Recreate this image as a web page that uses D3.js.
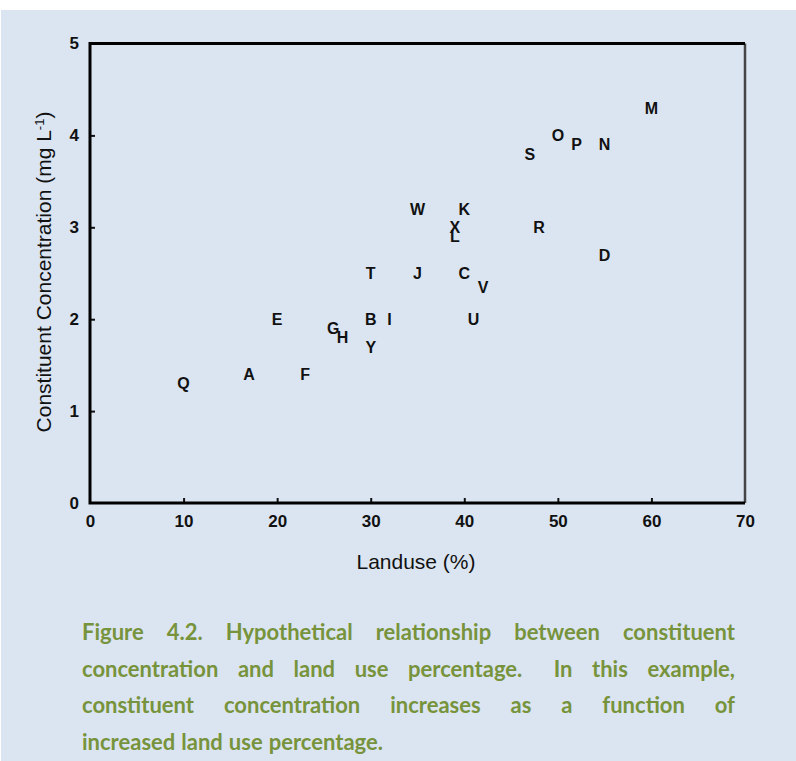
<!DOCTYPE html>
<html lang="en">
<head>
<meta charset="utf-8">
<script src="https://d3js.org/d3.v7.min.js"></script>
<style>
  html, body { margin: 0; padding: 0; background: #fff; }
  svg { display: block; }
  .tick-lbl { font: bold 17px "Liberation Sans", Arial, sans-serif; fill: #111; }
  .ax-title { font: 21px "Liberation Sans", Arial, sans-serif; fill: #111; }
  .marker { font: bold 16px "Liberation Sans", Arial, sans-serif; fill: #111; }
  .caption { font: bold 22px Lato, "Open Sans", sans-serif; fill: #77933c; }
</style>
</head>
<body>
<svg width="796" height="761"></svg>
<script>
// point letters and their values
var labels  = ["Q", "A", "F", "E", "G", "H", "T", "B", "I", "Y", "J", "C", "V", "U", "W", "K", "X", "L", "R", "D", "S", "O", "P", "N", "M"];
var landuse = [10, 17, 23, 20, 26, 27, 30, 30, 32, 30, 35, 40, 42, 41, 35, 40, 39, 39, 48, 55, 47, 50, 52, 55, 60];
var conc    = [1.3, 1.4, 1.4, 2.0, 1.9, 1.8, 2.5, 2.0, 2.0, 1.7, 2.5, 2.5, 2.35, 2.0, 3.2, 3.2, 3.0, 2.9, 3.0, 2.7, 3.8, 4.0, 3.9, 3.9, 4.3];

var xTicks = [0, 10, 20, 30, 40, 50, 60, 70];
var yTicks = [0, 1, 2, 3, 4, 5];

var captionLines = [
  "Figure 4.2. Hypothetical relationship between constituent",
  "concentration and land use percentage.  In this example,",
  "constituent concentration increases as a function of",
  "increased land use percentage."
];

var svg = d3.select("svg");

// light blue panel
svg.append("rect")
  .attr("x", 1).attr("y", 10)
  .attr("width", 795).attr("height", 751)
  .attr("fill", "#dbe5f1");

var margin = { top: 43.5, left: 90 };
var width = 655, height = 459.5;

var x = d3.scaleLinear().domain([0, 70]).range([0, width]);
var y = d3.scaleLinear().domain([0, 5]).range([height, 0]);

var g = svg.append("g")
  .attr("transform", "translate(" + margin.left + "," + margin.top + ")");

// x axis ticks (inward) + labels
var xAxis = d3.axisBottom(x).tickValues(xTicks).tickFormat(d3.format("d")).tickSize(-5).tickPadding(12);
var gx = g.append("g")
  .attr("transform", "translate(0," + height + ")")
  .call(xAxis);
gx.select(".domain").remove();
gx.selectAll(".tick line").attr("stroke", "#111").attr("stroke-width", 2)
  .attr("opacity", function (d) { return d === 0 || d === 70 ? 0 : 1; });
gx.selectAll(".tick text").attr("class", "tick-lbl").attr("font-size", null).attr("font-family", null);

var yAxis = d3.axisLeft(y).tickValues(yTicks).tickFormat(d3.format("d")).tickSize(-5).tickPadding(11);
var gy = g.append("g").call(yAxis);
gy.select(".domain").remove();
gy.selectAll(".tick line").attr("stroke", "#111").attr("stroke-width", 2)
  .attr("opacity", function (d) { return d === 0 || d === 5 ? 0 : 1; });
gy.selectAll(".tick text").attr("class", "tick-lbl").attr("font-size", null).attr("font-family", null);
svg.selectAll(".tick-lbl").attr("fill", null);

// frame
g.append("line").attr("x1", width).attr("x2", width).attr("y1", 0).attr("y2", height)
  .attr("stroke", "#444").attr("stroke-width", 2.5);
g.append("path")
  .attr("d", "M" + width + ",0H0V" + height + "H" + width)
  .attr("fill", "none").attr("stroke", "#000").attr("stroke-width", 3);

// letters as markers
var pts = labels.map(function (d, i) { return { lab: d, lu: landuse[i], c: conc[i] }; });
g.selectAll(".marker")
  .data(pts)
  .enter().append("text")
  .attr("class", "marker")
  .attr("x", function (d) { return x(d.lu); })
  .attr("y", function (d) { return y(d.c); })
  .attr("dy", "0.36em")
  .attr("text-anchor", "middle")
  .text(function (d) { return d.lab; });

// axis titles
svg.append("text")
  .attr("class", "ax-title")
  .attr("x", 416).attr("y", 569)
  .attr("text-anchor", "middle")
  .text("Landuse (%)");

var yt = svg.append("text")
  .attr("class", "ax-title")
  .attr("transform", "translate(51,272) rotate(-90)")
  .attr("text-anchor", "middle");
yt.append("tspan").text("Constituent Concentration (mg L");
yt.append("tspan").attr("dy", -7).attr("font-size", 13).text("-1");
yt.append("tspan").attr("dy", 7).text(")");

// caption, justified word by word; the double space counts as 1.6 gaps
var capLeft = 82, capRight = 735;
var baselines = [640, 677, 713, 750];
captionLines.forEach(function (line, li) {
  var words = line.split(/\s+/);
  var gaps = line.match(/\s+/g).map(function (s) { return s.length > 1 ? 1.6 : 1; });
  var t = svg.append("g");
  var nodes = words.map(function (w) {
    return t.append("text").attr("class", "caption").attr("y", baselines[li]).text(w);
  });
  var widths = nodes.map(function (n) { return n.node().getComputedTextLength(); });
  var total = d3.sum(widths);
  var justify = li < captionLines.length - 1;
  var gap = justify ? (capRight - capLeft - total) / d3.sum(gaps) : 6;
  var cx = capLeft;
  nodes.forEach(function (n, i) {
    n.attr("x", cx);
    cx += widths[i] + (i < gaps.length ? gap * gaps[i] : 0);
  });
});
</script>
</body>
</html>
